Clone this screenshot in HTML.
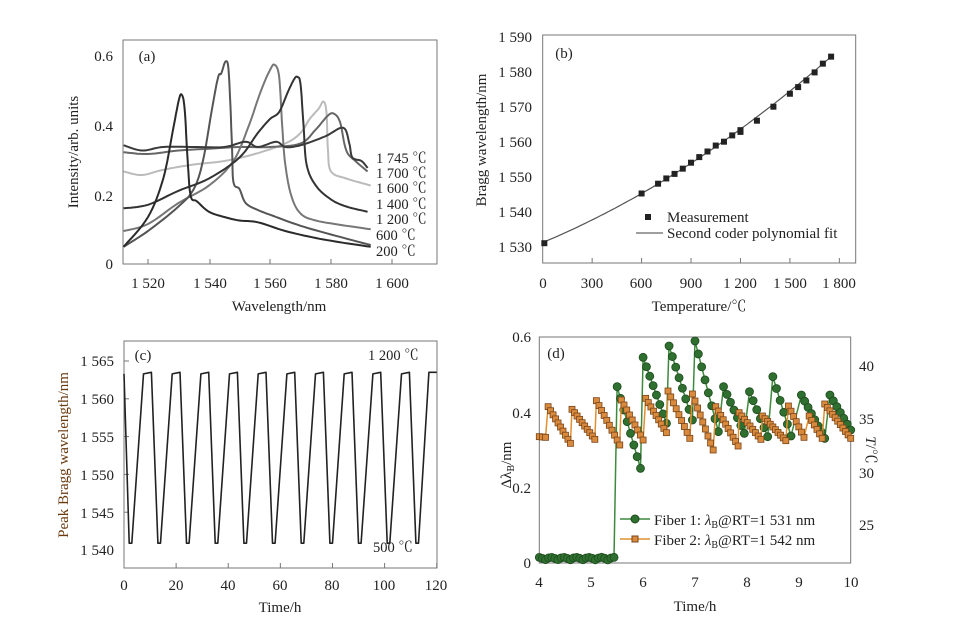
<!DOCTYPE html>
<html><head><meta charset="utf-8"><style>
body{margin:0;background:#fff;}
svg{display:block;font-family:"Liberation Serif","Noto Serif CJK SC",serif;fill:#222;}
</style></head><body>
<svg id="s" width="966" height="627" xmlns="http://www.w3.org/2000/svg">
<g stroke="#777" stroke-width="1" fill="none">
<rect x="123" y="40" width="314" height="224"/>
<rect x="542.7" y="35" width="313" height="228"/>
<rect x="124" y="341" width="313" height="227"/>
<rect x="539.3" y="337" width="311.4" height="226"/>
</g>
<g font-size="15" text-anchor="middle">
<text x="148" y="288">1 520</text><text x="210" y="288">1 540</text><text x="270" y="288">1 560</text><text x="331" y="288">1 580</text><text x="392" y="288">1 600</text>
<text x="279" y="311">Wavelength/nm</text>
<text text-anchor="end" x="113" y="61">0.6</text><text text-anchor="end" x="113" y="131">0.4</text><text text-anchor="end" x="113" y="201">0.2</text><text text-anchor="end" x="113" y="269">0</text>
<text transform="translate(78,152) rotate(-90)">Intensity/arb. units</text>
<text x="147" y="61" text-anchor="middle">(a)</text>
</g>
<g font-size="14.5">
<text x="376" y="163">1 745 ℃</text><text x="376" y="178">1 700 ℃</text><text x="376" y="193">1 600 ℃</text><text x="376" y="209">1 400 ℃</text><text x="376" y="224">1 200 ℃</text><text x="376" y="240">600 ℃</text><text x="376" y="256">200 ℃</text>
</g>
<g font-size="15" text-anchor="middle">
<text x="543" y="288">0</text><text x="592" y="288">300</text><text x="641" y="288">600</text><text x="691" y="288">900</text><text x="740" y="288">1 200</text><text x="790" y="288">1 500</text><text x="839" y="288">1 800</text>
<text x="699" y="311">Temperature/℃</text>
<g text-anchor="end"><text x="532" y="42">1 590</text><text x="532" y="77">1 580</text><text x="532" y="112">1 570</text><text x="532" y="147">1 560</text><text x="532" y="182">1 550</text><text x="532" y="217">1 540</text><text x="532" y="252">1 530</text></g>
<text transform="translate(486,140) rotate(-90)">Bragg wavelength/nm</text>
<text x="564" y="58">(b)</text>
<text x="667" y="222" text-anchor="start">Measurement</text>
<text x="667" y="238" text-anchor="start">Second coder polynomial fit</text>
</g>
<rect x="645" y="214" width="6" height="6" fill="#222"/>
<line x1="636" y1="233" x2="663" y2="233" stroke="#666" stroke-width="1.2"/>
<g font-size="15" text-anchor="middle">
<text x="124" y="590">0</text><text x="176" y="590">20</text><text x="228" y="590">40</text><text x="280" y="590">60</text><text x="332" y="590">80</text><text x="384" y="590">100</text><text x="436" y="590">120</text>
<text x="280" y="612">Time/h</text>
<g text-anchor="end"><text x="114" y="366">1 565</text><text x="114" y="404">1 560</text><text x="114" y="442">1 555</text><text x="114" y="480">1 550</text><text x="114" y="518">1 545</text><text x="114" y="555">1 540</text></g>
<text transform="translate(68,455) rotate(-90)" fill="#6a3a10">Peak Bragg wavelength/nm</text>
<text x="143" y="360">(c)</text>
<text x="368" y="360" font-size="14.5" text-anchor="start">1 200 ℃</text>
<text x="373" y="552" font-size="14.5" text-anchor="start">500 ℃</text>
</g>
<g font-size="15" text-anchor="middle">
<text x="539" y="587">4</text><text x="591" y="587">5</text><text x="643" y="587">6</text><text x="695" y="587">7</text><text x="747" y="587">8</text><text x="799" y="587">9</text><text x="851" y="587">10</text>
<text x="695" y="611">Time/h</text>
<g text-anchor="end"><text x="531" y="342">0.6</text><text x="531" y="418">0.4</text><text x="531" y="493">0.2</text><text x="531" y="568">0</text></g>
<g text-anchor="start"><text x="859" y="371">40</text><text x="859" y="424">35</text><text x="859" y="478">30</text><text x="859" y="530">25</text></g>
<text transform="translate(511,465) rotate(-90)">Δλ<tspan font-size="10" dy="3">B</tspan><tspan dy="-3">/nm</tspan></text>
<text transform="translate(866,450) rotate(90)"><tspan font-style="italic">T</tspan>/℃</text>
<text x="556" y="358">(d)</text>
<text x="654" y="525" text-anchor="start"><tspan>Fiber 1: </tspan><tspan font-style="italic">λ</tspan><tspan font-size="10" dy="3">B</tspan><tspan dy="-3">@RT=1 531 nm</tspan></text>
<text x="654" y="545" text-anchor="start"><tspan>Fiber 2: </tspan><tspan font-style="italic">λ</tspan><tspan font-size="10" dy="3">B</tspan><tspan dy="-3">@RT=1 542 nm</tspan></text>
</g>
<g id="dyn"></g>
</svg>
<script>
var NS="http://www.w3.org/2000/svg",G=document.getElementById("dyn");
function el(t,a){var e=document.createElementNS(NS,t);for(var k in a)e.setAttribute(k,a[k]);G.appendChild(e);return e;}
function pl(pts,c,w){el("polyline",{points:pts.map(p=>p[0].toFixed(1)+","+p[1].toFixed(1)).join(" "),fill:"none",stroke:c,"stroke-width":w,"stroke-linejoin":"round"});}
[148,210,270,331,392].forEach(x=>el("line",{x1:x,y1:264,x2:x,y2:259,stroke:"#777"}));
for(var T=300;T<=1800;T+=300){var x=542.7+T*0.1648;el("line",{x1:x,y1:263,x2:x,y2:258,stroke:"#777"});}
for(var t=20;t<=120;t+=20){var x=124+t*2.606;el("line",{x1:x,y1:568,x2:x,y2:563,stroke:"#777"});}
[1545,1550,1555,1560,1565].forEach(v=>{var y=550-(v-1540)*7.56;el("line",{x1:124,y1:y,x2:129,y2:y,stroke:"#777"})});
function ax(w){return 123+(w-1511.8)*3.05}function ay(v){return 266-350*v}
function smooth(p){var o=[];for(var i=0;i<p.length-1;i++){var p0=p[Math.max(0,i-1)],p1=p[i],p2=p[i+1],p3=p[Math.min(p.length-1,i+2)];for(var k=0;k<8;k++){var s=k/8,s2=s*s,s3=s2*s;o.push([0.5*(2*p1[0]+(-p0[0]+p2[0])*s+(2*p0[0]-5*p1[0]+4*p2[0]-p3[0])*s2+(-p0[0]+3*p1[0]-3*p2[0]+p3[0])*s3),0.5*(2*p1[1]+(-p0[1]+p2[1])*s+(2*p0[1]-5*p1[1]+4*p2[1]-p3[1])*s2+(-p0[1]+3*p1[1]-3*p2[1]+p3[1])*s3)]);}}o.push(p[p.length-1]);return o;}
var C=[
["#bbb",[[1512,.27],[1518,.26],[1525,.275],[1535,.29],[1545,.3],[1555,.32],[1565,.35],[1570,.38],[1573,.42],[1576,.45],[1577.5,.47],[1578.5,.44],[1579,.33],[1580,.27],[1585,.25],[1593,.23]]],
["#666",[[1512,.325],[1520,.32],[1530,.33],[1540,.335],[1550,.34],[1560,.34],[1570,.35],[1575,.39],[1579,.43],[1581,.435],[1583,.41],[1585,.33],[1588,.3],[1592,.27]]],
["#777",[[1512,.1],[1520,.12],[1530,.18],[1540,.23],[1548,.3],[1553,.4],[1557,.5],[1560,.56],[1561.5,.575],[1563,.54],[1564,.4],[1565,.29],[1567,.2],[1570,.15],[1575,.13],[1585,.115],[1593,.105]]],
["#555",[[1512,.055],[1520,.1],[1530,.17],[1535,.22],[1538,.3],[1541,.45],[1543,.54],[1544,.55],[1545.5,.585],[1546.5,.55],[1547.5,.35],[1548,.24],[1550,.22],[1552,.18],[1556,.16],[1562,.14],[1570,.115],[1580,.09],[1593,.06]]],
["#333",[[1512,.165],[1520,.175],[1530,.215],[1540,.25],[1550,.31],[1556,.38],[1560,.42],[1563,.44],[1566,.5],[1568,.535],[1569,.54],[1570,.52],[1571,.4],[1572,.29],[1575,.23],[1580,.19],[1585,.17],[1592,.155]]],
["#3a3a3a",[[1512,.345],[1518,.33],[1525,.34],[1535,.34],[1545,.34],[1552,.355],[1556,.34],[1562,.355],[1565,.34],[1570,.345],[1578,.37],[1584,.395],[1586,.35],[1587,.31],[1590,.3],[1592,.28]]],
["#2a2a2a",[[1512,.055],[1520,.14],[1525,.25],[1528,.38],[1530,.47],[1531,.49],[1532,.45],[1533,.3],[1534,.2],[1536,.185],[1540,.155],[1545,.14],[1550,.13],[1556,.125],[1565,.1],[1575,.08],[1585,.065],[1593,.055]]]];
C.forEach(c=>pl(smooth(c[1].map(p=>[ax(p[0]),ay(p[1])])),c[0],2));
function bx(T){return 542.7+T*0.1648}function by(v){return 246.7-(v-1530)*3.5}
var f=[];for(var T=0;T<=1760;T+=20)f.push([bx(T),by(1531.2+0.01967*T+6.1e-6*T*T)]);pl(f,"#555",1.2);
[[10,1531],[600,1545.2],[700,1548],[750,1549.5],[800,1550.8],[850,1552.3],[900,1554],[950,1555.6],[1000,1557.2],[1050,1558.9],[1100,1560],[1150,1561.8],[1200,1562.8],[1200,1563.3],[1300,1566],[1400,1570],[1500,1573.7],[1550,1575.6],[1600,1577.5],[1650,1579.8],[1700,1582.3],[1750,1584.3]].forEach(p=>el("rect",{x:bx(p[0])-3,y:by(p[1])-3,width:6,height:6,fill:"#222"}));
function cx(t){return 124+t*2.606}function cy(v){return 550-(v-1540)*7.56}
var c=[[0,1563.3]];for(var i=0;i<11;i++){var b=i*11;c.push([b+2,1540.9],[b+3,1540.9],[b+7.5,1563.3],[b+10.5,1563.5]);}c.pop();c.pop();c.push([117,1563.5],[120,1563.5]);
pl(c.map(p=>[cx(p[0]),cy(p[1])]),"#222",1.6);
function dx(t){return 539.3+(t-4)*51.9}function zy(z){return 330+z/3}
function saw(seg,st){var o=[];seg.forEach(s=>{var n=Math.max(2,Math.round((s[2]-s[0])/st));for(var k=0;k<=n;k++){var u=k/n;o.push([s[0]+(s[2]-s[0])*u,s[1]+(s[3]-s[1])*u]);}});return o;}
var og=saw([[4,320,4.12,322],[4.17,230,4.6,340],[4.63,238,5.07,328],[5.1,212,5.55,345],[5.58,210,6.0,330],[6.05,205,6.45,308],[6.48,183,6.9,325],[6.95,192,7.35,360],[7.4,230,7.83,348],[7.85,248,8.27,328],[8.3,258,8.75,332],[8.8,228,9.1,322],[9.2,258,9.45,325],[9.5,222,10,325]],0.05);
var gr=[];for(var t=4;t<5.46;t+=0.06)gr.push([t,690-8*Math.abs(Math.sin(t*13))]);
gr=gr.concat(saw([[5.5,170,5.95,415],[6.0,82,6.45,280],[6.5,48,6.95,270],[7.0,33,7.45,305],[7.55,170,7.95,310],[8.05,185,8.4,320],[8.5,140,8.85,318],[9.05,195,9.5,325],[9.6,195,10,300]],0.065));
var ogp=og.map(p=>[dx(p[0]),zy(p[1])]),grp=gr.map(p=>[dx(p[0]),zy(p[1])]);
pl(grp,"#3d8a3d",1.5);
grp.forEach(p=>el("circle",{cx:p[0],cy:p[1],r:4,fill:"#2f7030",stroke:"#1d4a1d","stroke-width":0.8}));
pl(ogp,"#e0902f",1.5);
ogp.forEach(p=>el("rect",{x:p[0]-3,y:p[1]-3,width:6,height:6,fill:"#d98a3d",stroke:"#7a4518","stroke-width":0.8}));
el("line",{x1:620,y1:519,x2:650,y2:519,stroke:"#3d8a3d","stroke-width":1.5});el("circle",{cx:635,cy:519,r:4,fill:"#2f7030",stroke:"#1d4a1d"});
el("line",{x1:620,y1:539,x2:650,y2:539,stroke:"#e0902f","stroke-width":1.5});el("rect",{x:632,y:536,width:6,height:6,fill:"#d98a3d",stroke:"#7a4518"});
</script>
</body></html>
